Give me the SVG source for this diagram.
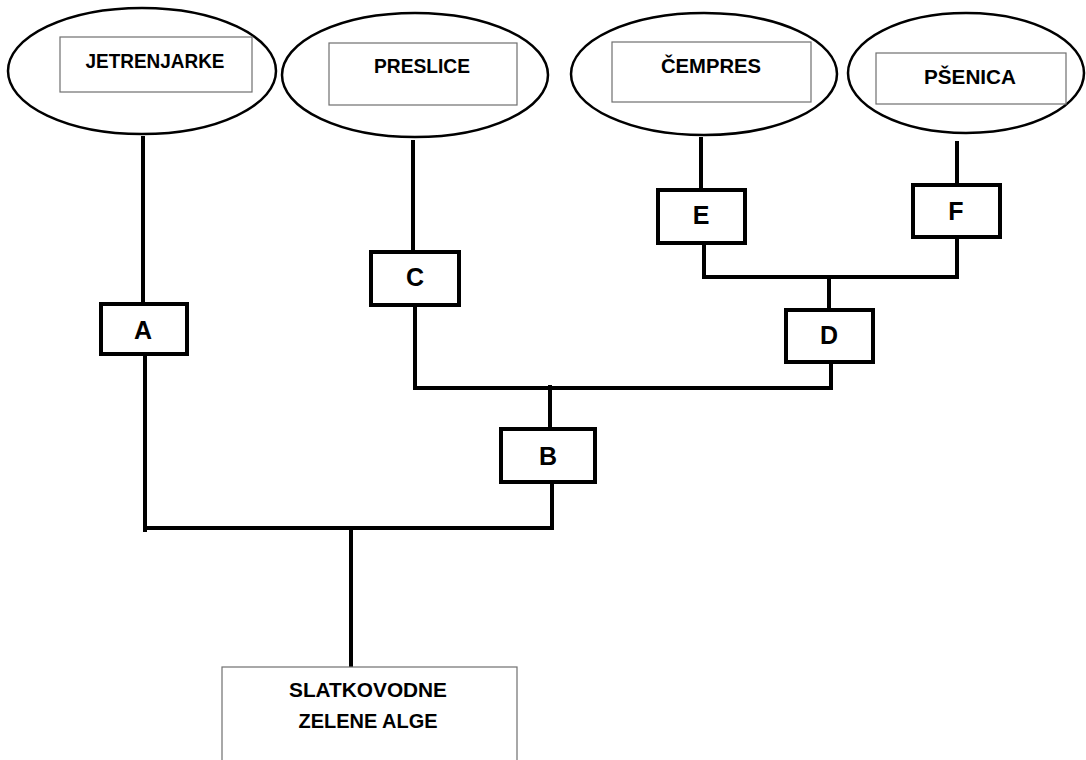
<svg xmlns="http://www.w3.org/2000/svg" width="1086" height="760" viewBox="0 0 1086 760">
<style>
.ell{fill:#fff;stroke:#000;stroke-width:2.5}
.lab{fill:#fff;stroke:#6f6f6f;stroke-width:1.2}
.box{fill:#fff;stroke:#000;stroke-width:4}
.con{fill:none;stroke:#000;stroke-width:4;stroke-linecap:butt;stroke-linejoin:miter}
.t{font-family:"Liberation Sans",Arial,sans-serif;font-weight:bold;font-size:21px;fill:#000;text-anchor:middle}
.l{font-family:"Liberation Sans",Arial,sans-serif;font-weight:bold;font-size:25px;fill:#000;text-anchor:middle}
</style>
<rect width="1086" height="760" fill="#fff"/>
<g id="connectors">
<path class="con" d="M143 136 V302"/>
<path class="con" d="M145 356 V532"/>
<path class="con" d="M145 528 H552"/>
<path class="con" d="M351 528 V667"/>
<path class="con" d="M413 140 V250"/>
<path class="con" d="M415 307 V388 H831"/>
<path class="con" d="M550 385 V427"/>
<path class="con" d="M552 484 V530"/>
<path class="con" d="M701 137 V188"/>
<path class="con" d="M957 141 V183"/>
<path class="con" d="M704 245 V277 H957 V239"/>
<path class="con" d="M829 277 V308"/>
<path class="con" d="M831 364 V390"/>
</g>
<g id="jetrenjarke">
<ellipse class="ell" cx="142" cy="71" rx="134" ry="63"/>
<rect class="lab" x="60" y="37" width="192" height="55"/>
<text class="t" x="155" y="68" textLength="139" lengthAdjust="spacingAndGlyphs">JETRENJARKE</text>
</g>
<g id="preslice">
<ellipse class="ell" cx="415" cy="75" rx="133" ry="62"/>
<rect class="lab" x="329" y="43" width="188" height="62"/>
<text class="t" x="422" y="73" textLength="96" lengthAdjust="spacingAndGlyphs">PRESLICE</text>
</g>
<g id="cempres">
<ellipse class="ell" cx="704" cy="74" rx="133" ry="61"/>
<rect class="lab" x="612" y="42" width="199" height="60"/>
<text class="t" x="711" y="73" textLength="100" lengthAdjust="spacingAndGlyphs">ČEMPRES</text>
</g>
<g id="psenica">
<ellipse class="ell" cx="966" cy="73" rx="118" ry="60"/>
<rect class="lab" x="876" y="53" width="190" height="51"/>
<text class="t" x="970" y="84" textLength="92" lengthAdjust="spacingAndGlyphs">PŠENICA</text>
</g>
<g id="nodeA">
<rect class="box" x="101" y="304" width="86" height="50"/>
<text class="l" x="143" y="339">A</text>
</g>
<g id="nodeB">
<rect class="box" x="501" y="429" width="94" height="53"/>
<text class="l" x="548" y="465">B</text>
</g>
<g id="nodeC">
<rect class="box" x="371" y="252" width="88" height="53"/>
<text class="l" x="415" y="286">C</text>
</g>
<g id="nodeD">
<rect class="box" x="786" y="310" width="87" height="52"/>
<text class="l" x="829" y="344">D</text>
</g>
<g id="nodeE">
<rect class="box" x="658" y="190" width="87" height="53"/>
<text class="l" x="701" y="224">E</text>
</g>
<g id="nodeF">
<rect class="box" x="913" y="185" width="87" height="52"/>
<text class="l" x="956" y="220">F</text>
</g>
<g id="root">
<rect class="lab" x="222" y="667" width="295" height="100"/>
<text class="t" x="368" y="697" textLength="158" lengthAdjust="spacingAndGlyphs">SLATKOVODNE</text>
<text class="t" x="368" y="728" textLength="139" lengthAdjust="spacingAndGlyphs">ZELENE ALGE</text>
</g>
</svg>
